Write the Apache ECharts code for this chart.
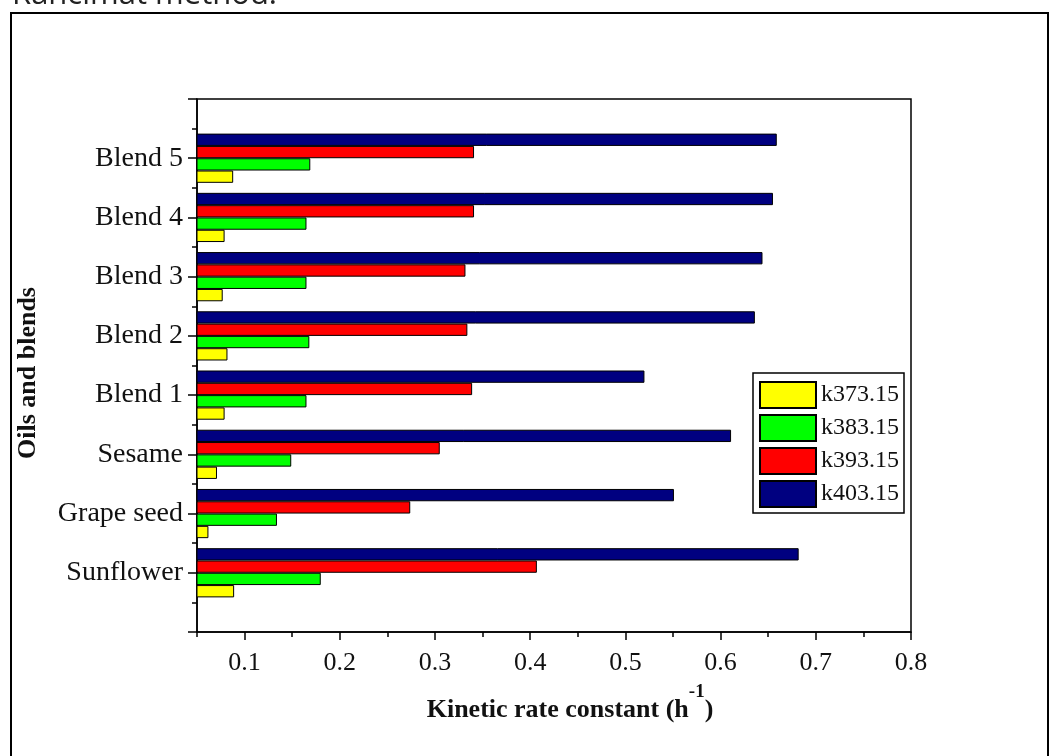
<!DOCTYPE html>
<html>
<head>
<meta charset="utf-8">
<script src="https://cdn.jsdelivr.net/npm/echarts@6/dist/echarts.min.js"></script>
<style>
html,body{margin:0;padding:0;background:#fff;}
#chart{width:1051px;height:756px;}
</style>
</head>
<body>
<div id="chart"></div>
<script>
// ---- data ----
var categories = ['Sunflower', 'Grape seed', 'Sesame', 'Blend 1', 'Blend 2', 'Blend 3', 'Blend 4', 'Blend 5'];
var seriesNames = ['k373.15', 'k383.15', 'k393.15', 'k403.15'];
var k373 = [0.089, 0.062, 0.071, 0.079, 0.082, 0.077, 0.079, 0.088];
var k383 = [0.180, 0.134, 0.149, 0.165, 0.168, 0.165, 0.165, 0.169];
var k393 = [0.407, 0.274, 0.305, 0.339, 0.334, 0.332, 0.341, 0.341];
var k403 = [0.682, 0.551, 0.611, 0.520, 0.636, 0.644, 0.655, 0.659];
var xMajorTicks = [0.1, 0.2, 0.3, 0.4, 0.5, 0.6, 0.7, 0.8];
var xMinorTicks = [0.05, 0.15, 0.25, 0.35, 0.45, 0.55, 0.65, 0.75];
var yMinorTicks = [0.5, 1.5, 2.5, 3.5, 4.5, 5.5, 6.5, 7.5, 8.5];
var xTitle = 'Kinetic rate constant (h';
var xTitleSup = '-1';
var yTitle = 'Oils and blends';
var topText = 'Rancimat method.';

var colors = {'k373.15': '#FFFF00', 'k383.15': '#00FF00', 'k393.15': '#FF0000', 'k403.15': '#000080'};
var valuesByName = {'k373.15': k373, 'k383.15': k383, 'k393.15': k393, 'k403.15': k403};

var yCats = [''].concat(categories).concat([' ']);
function pad(arr) { return ['-'].concat(arr).concat(['-']); }

var serif = 'Liberation Serif';
// series drawn top-to-bottom within a group: k403 first (top)
var drawOrder = ['k403.15', 'k393.15', 'k383.15', 'k373.15'];
var series = drawOrder.map(function (n) {
  return {
    name: n,
    type: 'bar',
    xAxisIndex: 0,
    yAxisIndex: 0,
    data: pad(valuesByName[n]),
    barWidth: 12.3,
    barGap: '0%',
    itemStyle: {color: colors[n], borderColor: '#000', borderWidth: 1},
    animation: false
  };
});

var chart = echarts.init(document.getElementById('chart'));
chart.setOption({
  animation: false,
  backgroundColor: '#fff',
  grid: {left: 197, top: 99, right: 140, bottom: 124, show: true, borderColor: '#000', borderWidth: 1.5},
  legend: {
    data: seriesNames,
    orient: 'vertical',
    left: 753,
    top: 373,
    itemWidth: 56,
    itemHeight: 26,
    itemGap: 5,
    icon: 'rect',
    padding: [8, 5, 5, 6],
    borderColor: '#000',
    borderWidth: 1.5,
    backgroundColor: '#fff',
    textStyle: {fontFamily: serif, fontSize: 24, color: '#111'}
  },
  xAxis: [{
    type: 'value',
    min: 0.05,
    max: 0.8,
    position: 'bottom',
    axisLine: {show: true, lineStyle: {color: '#000', width: 1.5}},
    axisTick: {show: true, customValues: xMajorTicks, length: 8, lineStyle: {color: '#000', width: 1.5}},
    axisLabel: {customValues: xMajorTicks, fontFamily: serif, fontSize: 26, color: '#111', margin: 18},
    splitLine: {show: false}
  }, {
    type: 'value',
    min: 0.05,
    max: 0.8,
    position: 'bottom',
    axisLine: {show: false},
    axisTick: {show: true, customValues: xMinorTicks, length: 5, lineStyle: {color: '#000', width: 1.5}},
    axisLabel: {show: false},
    splitLine: {show: false}
  }],
  yAxis: [{
    type: 'category',
    data: yCats,
    boundaryGap: false,
    position: 'left',
    axisLine: {show: true, lineStyle: {color: '#000', width: 1.5}},
    axisTick: {show: true, length: 9, lineStyle: {color: '#000', width: 1.5}},
    axisLabel: {fontFamily: serif, fontSize: 28, color: '#111', margin: 14, interval: 0},
    splitLine: {show: false}
  }, {
    type: 'value',
    min: 0,
    max: 9,
    position: 'left',
    axisLine: {show: false},
    axisTick: {show: true, customValues: yMinorTicks, length: 5, lineStyle: {color: '#000', width: 1.5}},
    axisLabel: {show: false},
    splitLine: {show: false}
  }],
  series: series,
  graphic: [{
    type: 'rect',
    silent: true,
    shape: {x: 11, y: 13, width: 1037, height: 760},
    style: {fill: 'none', stroke: '#000', lineWidth: 2}
  }, {
    type: 'text',
    silent: true,
    x: 12,
    y: -5,
    style: {text: topText, font: '31px "Open Sans"', fill: '#222', textAlign: 'left', textVerticalAlign: 'middle'}
  }, {
    type: 'text',
    silent: true,
    x: 570,
    y: 703,
    style: {
      text: '{b|' + xTitle + '}{s|' + xTitleSup + '}{b|)}',
      textAlign: 'center',
      textVerticalAlign: 'middle',
      rich: {
        b: {fontFamily: serif, fontWeight: 'bold', fontSize: 26, fill: '#111', verticalAlign: 'bottom', lineHeight: 40},
        s: {fontFamily: serif, fontWeight: 'bold', fontSize: 19, fill: '#111', verticalAlign: 'top', lineHeight: 19}
      }
    }
  }, {
    type: 'text',
    silent: true,
    x: 28,
    y: 373,
    rotation: Math.PI / 2,
    style: {text: yTitle, font: 'bold 26px "Liberation Serif"', fill: '#111', textAlign: 'center', textVerticalAlign: 'middle'}
  }]
});
</script>
</body>
</html>
